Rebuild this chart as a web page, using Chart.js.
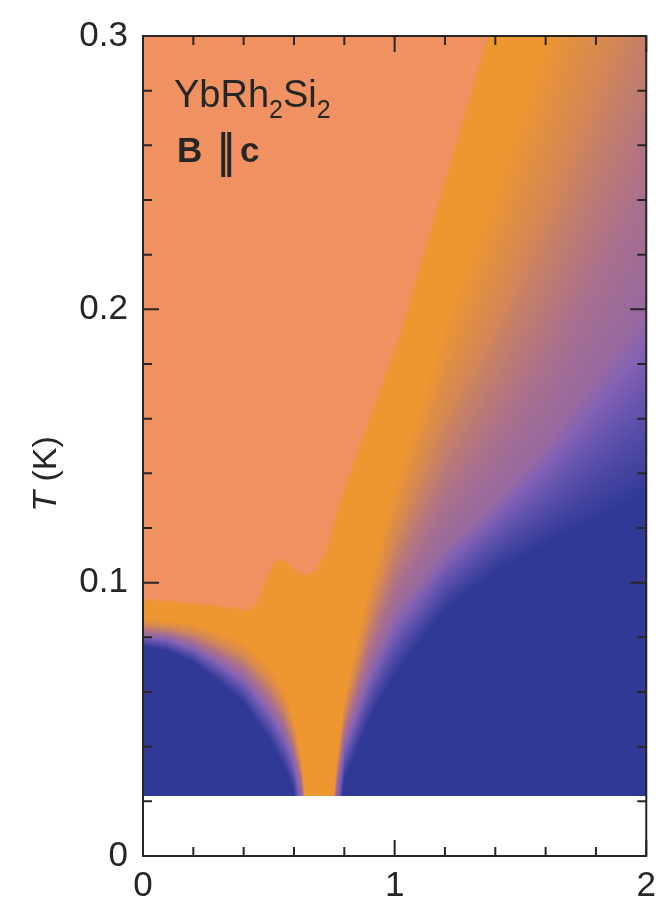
<!DOCTYPE html>
<html><head><meta charset="utf-8">
<script src="https://cdn.jsdelivr.net/npm/chart.js@4.4.0/dist/chart.umd.min.js"></script>
<style>html,body{margin:0;padding:0;background:#fff;}#wrap{width:665px;height:909px;}</style>
</head><body><div id="wrap"><canvas id="c" width="665" height="909"></canvas></div>
<script>
// ---- data ----
// magnetic field columns (T) and the temperature contours (K) of the resistivity exponent
const fieldB  = [0,     0.1,   0.2,   0.3,   0.4,   0.5,   0.56,  0.6,   0.63,  0.66, 0.74, 0.77,  0.8,   0.9,   1.0,   1.2,   1.4,   1.6,   1.8,   2.0];
const tBlue   = [0.077, 0.075, 0.071, 0.064, 0.056, 0.043, 0.033, 0.024, 0.0,   0.0,  0.0,  0.0,   0.028, 0.050, 0.066, 0.090, 0.104, 0.114, 0.123, 0.132]; // exponent 2 below
const tMid    = [0.081, 0.080, 0.077, 0.072, 0.066, 0.055, 0.046, 0.036, 0.025, 0.0,  0.0,  0.024, 0.042, 0.068, 0.088, 0.112, 0.13,  0.15,  0.175, 0.20];  // exponent 1.5
const tOrange = [0.087, 0.086, 0.085, 0.082, 0.078, 0.070, 0.061, 0.050, 0.036, 0.0,  0.0,  0.036, 0.058, 0.10,  0.135, 0.195, 0.245, 0.30,  0.36,  0.42];  // exponent 1 above
// lower / right edge of the upper-left (salmon) region
const salmonB = [0,     0.25,  0.42,  0.45,  0.49,  0.52,  0.55,  0.59,  0.63,  0.66,  0.69,  0.73,  0.78,  1.02, 1.37, 1.40];
const salmonT = [0.094, 0.092, 0.090, 0.092, 0.101, 0.107, 0.109, 0.106, 0.103, 0.103, 0.105, 0.112, 0.129, 0.19, 0.30, 0.31];
const tMin = 0.022;
// axis ticks
const xMajorTicks = [0, 1, 2];
const xMinorTicks = [0.2, 0.4, 0.6, 0.8, 1.2, 1.4, 1.6, 1.8];
const yMajorTicks = [0, 0.1, 0.2, 0.3];
const yMinorTicks = [0.02, 0.04, 0.06, 0.08, 0.12, 0.14, 0.16, 0.18, 0.22, 0.24, 0.26, 0.28];

// ---- colours ----
const salmonRGB = [240, 145, 98];
const cmapStops = [0, 0.2, 0.4, 0.6, 0.8, 1.0];
const cmapRGB = [[238,150,48],[214,136,82],[170,112,140],[132,98,180],[88,78,170],[48,58,150]];
const FONT = "'Liberation Sans', Arial, sans-serif";
const INK = '#262626';

function interp(xs, ys, v) {
  if (v <= xs[0]) return ys[0];
  const n = xs.length;
  if (v >= xs[n-1]) return ys[n-1];
  for (let i = 1; i < n; i++) {
    if (v <= xs[i]) { const f = (v - xs[i-1]) / (xs[i] - xs[i-1]); return ys[i-1] + f * (ys[i] - ys[i-1]); }
  }
  return ys[n-1];
}
function cmap(v) {
  for (let i = 1; i < cmapStops.length; i++) {
    if (v <= cmapStops[i]) {
      const f = (v - cmapStops[i-1]) / (cmapStops[i] - cmapStops[i-1]);
      const a = cmapRGB[i-1], b = cmapRGB[i];
      return [a[0]+f*(b[0]-a[0]), a[1]+f*(b[1]-a[1]), a[2]+f*(b[2]-a[2])];
    }
  }
  return cmapRGB[cmapRGB.length-1];
}

const heatPlugin = {
  id: 'heat',
  beforeDatasetsDraw(chart) {
    const {ctx, chartArea: a, scales: {x, y}} = chart;
    const left = Math.round(a.left), top = Math.round(a.top);
    const w = Math.round(a.right) - left, h = Math.round(a.bottom) - top;
    const off = document.createElement('canvas'); off.width = w; off.height = h;
    const octx = off.getContext('2d');
    const img = octx.createImageData(w, h);
    const d = img.data;
    const sp = salmonB.map((b, i) => [x.getPixelForValue(b), y.getPixelForValue(salmonT[i])]);
    const bLast = salmonB[salmonB.length-1];
    for (let i = 0; i < w; i++) {
      const px = left + i + 0.5;
      const B = x.getValueForPixel(px);
      const t1 = interp(fieldB, tBlue, B), th = interp(fieldB, tMid, B), t0 = interp(fieldB, tOrange, B);
      const sT = B <= bLast ? interp(salmonB, salmonT, B) : Infinity;
      for (let j = 0; j < h; j++) {
        const py = top + j + 0.5;
        const T = y.getValueForPixel(py);
        if (T < tMin) continue;
        let v;
        if (T <= t1) v = 1;
        else if (T <= th) v = 1 - 0.5 * (T - t1) / Math.max(th - t1, 1e-9);
        else if (T <= t0) v = 0.5 - 0.5 * (T - th) / Math.max(t0 - th, 1e-9);
        else v = 0;
        let c = cmap(v);
        let dist = Infinity;
        for (let k = 1; k < sp.length; k++) {
          const ax = sp[k-1][0], ay = sp[k-1][1], bx = sp[k][0], by = sp[k][1];
          const dx = bx - ax, dy = by - ay;
          let f = ((px - ax) * dx + (py - ay) * dy) / (dx*dx + dy*dy);
          f = Math.max(0, Math.min(1, f));
          const ex = ax + f*dx - px, ey = ay + f*dy - py;
          const dd = ex*ex + ey*ey;
          if (dd < dist) dist = dd;
        }
        dist = Math.sqrt(dist);
        const s = (T > sT) ? dist : -dist;
        const al = Math.max(0, Math.min(1, 0.5 + s / 3));
        c = [c[0] + al*(salmonRGB[0]-c[0]), c[1] + al*(salmonRGB[1]-c[1]), c[2] + al*(salmonRGB[2]-c[2])];
        const o = (j * w + i) * 4;
        d[o] = c[0]; d[o+1] = c[1]; d[o+2] = c[2]; d[o+3] = 255;
      }
    }
    octx.putImageData(img, 0, 0);
    ctx.drawImage(off, left, top);
  }
};

const framePlugin = {
  id: 'frame',
  afterDraw(chart) {
    const {ctx, chartArea: a, scales: {x, y}} = chart;
    ctx.save();
    ctx.strokeStyle = INK;
    ctx.lineWidth = 2;
    ctx.strokeRect(a.left, a.top, a.right - a.left, a.bottom - a.top);
    const MAJ = 16, MIN = 9;
    ctx.beginPath();
    const xt = (v, L) => { const p = x.getPixelForValue(v);
      ctx.moveTo(p, a.bottom); ctx.lineTo(p, a.bottom - L);
      ctx.moveTo(p, a.top); ctx.lineTo(p, a.top + L); };
    const yt = (v, L) => { const p = y.getPixelForValue(v);
      ctx.moveTo(a.left, p); ctx.lineTo(a.left + L, p);
      ctx.moveTo(a.right, p); ctx.lineTo(a.right - L, p); };
    xMajorTicks.forEach(v => xt(v, MAJ)); xMinorTicks.forEach(v => xt(v, MIN));
    yMajorTicks.forEach(v => yt(v, MAJ)); yMinorTicks.forEach(v => yt(v, MIN));
    ctx.stroke();

    // y-axis title: T (K)
    ctx.fillStyle = INK;
    ctx.textBaseline = 'alphabetic';
    ctx.translate(56, 474);
    ctx.rotate(-Math.PI / 2);
    ctx.font = 'italic 34px ' + FONT;
    const wT = ctx.measureText('T').width;
    ctx.font = '34px ' + FONT;
    const wK = ctx.measureText(' (K)').width;
    const sx = -(wT + wK) / 2;
    ctx.font = 'italic 34px ' + FONT; ctx.fillText('T', sx, 0);
    ctx.font = '34px ' + FONT; ctx.fillText(' (K)', sx + wT, 0);
    ctx.setTransform(1, 0, 0, 1, 0, 0);

    // annotation
    const base = 107, subOff = 11;
    let cx = 174;
    const put = (t, f, dy) => { ctx.font = f; ctx.fillText(t, cx, base + dy); cx += ctx.measureText(t).width; };
    put('YbRh', '38px ' + FONT, 0);
    put('2', '25px ' + FONT, subOff);
    put('Si', '38px ' + FONT, 0);
    put('2', '25px ' + FONT, subOff);
    ctx.font = 'bold 35px ' + FONT;
    ctx.fillText('B', 177, 162);
    ctx.font = '48px ' + FONT;
    ctx.fillText('|', 217, 167);
    ctx.fillText('|', 223, 167);
    ctx.font = 'bold 35px ' + FONT;
    ctx.fillText('c', 240, 162);
    ctx.restore();
  }
};

new Chart(document.getElementById('c'), {
  type: 'scatter',
  data: { datasets: [{ label: 'exponent', data: [], showLine: false }] },
  options: {
    responsive: false, animation: false, devicePixelRatio: 1,
    layout: { padding: { left: 0, right: 16, top: 30, bottom: 0 } },
    plugins: { legend: { display: false }, tooltip: { enabled: false } },
    scales: {
      x: {
        type: 'linear', min: 0, max: 2,
        afterBuildTicks: s => { s.ticks = xMajorTicks.map(v => ({ value: v })); },
        afterFit: s => { s.height = 53; },
        grid: { display: false, drawTicks: false }, border: { display: false },
        ticks: { callback: v => String(v), font: { family: FONT, size: 35 }, color: INK, padding: 9, maxRotation: 0 }
      },
      y: {
        type: 'linear', min: 0, max: 0.3,
        afterBuildTicks: s => { s.ticks = yMajorTicks.map(v => ({ value: v })); },
        afterFit: s => { s.width = 143; },
        grid: { display: false, drawTicks: false }, border: { display: false },
        ticks: { callback: v => String(v), font: { family: FONT, size: 35 }, color: INK, padding: 15 }
      }
    }
  },
  plugins: [heatPlugin, framePlugin]
});
</script></body></html>
